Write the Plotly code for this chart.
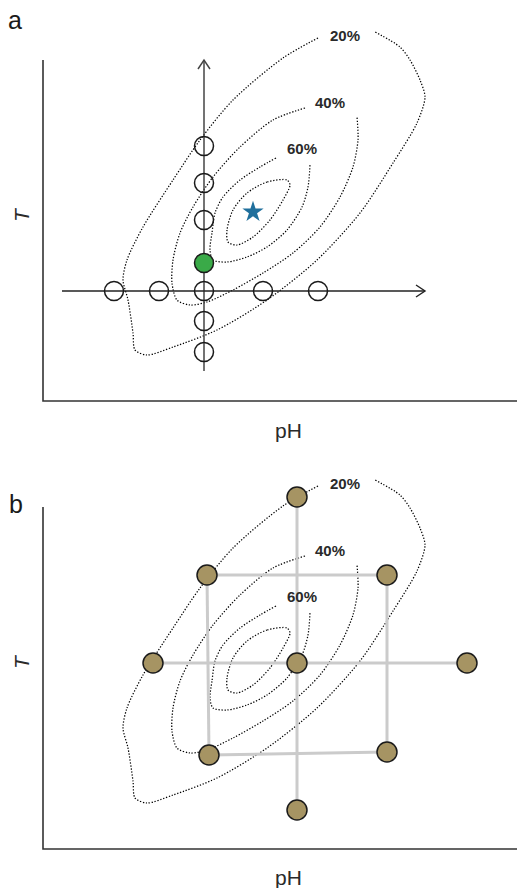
import plotly.graph_objects as go

# ---------------- data (units: pH / T, origin at axis corner) ----------------
c20_x = [275, 240, 190, 157, 130, 100, 84, 80, 85, 90, 92, 104, 130, 174, 224, 274, 317, 350, 374, 382, 377, 367, 357, 332]
c20_y = [363, 343, 301, 261, 221, 174, 141, 121, 101, 68, 51, 46, 54, 71, 101, 141, 188, 238, 278, 304, 321, 341, 354, 369]
c40_x = [262, 230, 197, 170, 150, 137, 130, 129, 134, 147, 164, 190, 220, 250, 277, 297, 310, 315, 314]
c40_y = [293, 281, 254, 224, 194, 168, 141, 118, 101, 96, 99, 111, 128, 148, 174, 204, 234, 261, 284]
c60_x = [233, 217, 197, 180, 172, 169, 167, 170, 184, 204, 224, 244, 259, 265, 267]
c60_y = [243, 234, 221, 204, 188, 168, 151, 141, 139, 144, 154, 171, 194, 214, 236]
c80_x = [244, 224, 204, 190, 184, 185, 194, 210, 227, 240, 247, 244]
c80_y = [221, 219, 208, 191, 171, 159, 156, 164, 181, 201, 216, 221]

contour_labels = ["20%", "40%", "60%"]
label_x = [302, 287, 259]
label_y = [366, 299, 253]

# panel a: one-factor-at-a-time design
ofat_x = [161, 161, 161, 161, 161, 161, 71, 116, 220, 275]
ofat_y = [255, 218, 181, 110, 80, 49, 110, 110, 110, 110]
best_x = [161]
best_y = [138]
opt_x = [210]
opt_y = [189]
arrow_v = [161, 30, 341]   # x, y_start, y_end
arrow_h = [110, 19, 382]   # y, x_start, x_end

# panel b: central composite design
ccd_x = [254, 164, 344, 110, 254, 424, 166, 344, 254]
ccd_y = [352, 274, 274, 186, 186, 186, 94, 97, 39]
ccd_links = [(1, 2), (6, 7), (1, 6), (2, 7), (3, 5), (0, 8)]

axis_len_x = 474
axis_len_y = [341, 342]

FONT = "Liberation Sans, Arial, sans-serif"
DARK = "#333333"

fig = go.Figure()

def add_contours(xa, ya):
    for cx, cy in [(c20_x, c20_y), (c40_x, c40_y), (c60_x, c60_y), (c80_x, c80_y)]:
        fig.add_trace(go.Scatter(x=cx, y=cy, mode="lines", xaxis=xa, yaxis=ya,
                                 line=dict(color="#000000", width=1.25, dash="1.3px,1.7px", shape="spline", smoothing=0.8),
                                 hoverinfo="skip", showlegend=False))
    for t, lx, ly in zip(contour_labels, label_x, label_y):
        fig.add_annotation(x=lx, y=ly, xref=xa, yref=ya, text="<b>" + t + "</b>",
                           xanchor="center", yanchor="middle",
                           showarrow=False, font=dict(family=FONT, size=15, color="#2a2a2a"))

def add_frame(xa, ya, h):
    fig.add_trace(go.Scatter(x=[0, 0, axis_len_x], y=[h, 0, 0], mode="lines", xaxis=xa, yaxis=ya,
                             line=dict(color=DARK, width=1.6), hoverinfo="skip", showlegend=False))

# ---------- panel a ----------
add_contours("x", "y")
add_frame("x", "y", axis_len_y[0])
vx, vy0, vy1 = arrow_v
hy, hx0, hx1 = arrow_h
fig.add_trace(go.Scatter(x=[vx, vx, None, vx - 6, vx, vx + 6], y=[vy0, vy1, None, vy1 - 9, vy1, vy1 - 9],
                         mode="lines", line=dict(color="#444444", width=1.5), hoverinfo="skip", showlegend=False))
fig.add_trace(go.Scatter(x=[hx0, hx1, None, hx1 - 9, hx1, hx1 - 9], y=[hy, hy, None, hy + 6, hy, hy - 6],
                         mode="lines", line=dict(color="#222222", width=1.4), hoverinfo="skip", showlegend=False))
fig.add_trace(go.Scatter(x=ofat_x, y=ofat_y, mode="markers",
                         marker=dict(symbol="circle-open", size=19, color="#1a1a1a", line=dict(width=1.5)),
                         hoverinfo="skip", showlegend=False))
fig.add_trace(go.Scatter(x=best_x, y=best_y, mode="markers",
                         marker=dict(symbol="circle", size=19, color="#3aaa48", line=dict(width=1.5, color="#1a1a1a")),
                         hoverinfo="skip", showlegend=False))
fig.add_trace(go.Scatter(x=opt_x, y=opt_y, mode="markers",
                         marker=dict(symbol="star", size=16, color="#1f6f9c", line=dict(width=0)),
                         hoverinfo="skip", showlegend=False))

# ---------- panel b ----------
add_contours("x2", "y2")
add_frame("x2", "y2", axis_len_y[1])
lx, ly = [], []
for i, j in ccd_links:
    lx += [ccd_x[i], ccd_x[j], None]
    ly += [ccd_y[i], ccd_y[j], None]
fig.add_trace(go.Scatter(x=lx, y=ly, mode="lines", xaxis="x2", yaxis="y2",
                         line=dict(color="#cbcbcb", width=3), hoverinfo="skip", showlegend=False))
fig.add_trace(go.Scatter(x=ccd_x, y=ccd_y, mode="markers", xaxis="x2", yaxis="y2",
                         marker=dict(symbol="circle", size=20, color="#a69463", line=dict(width=1.5, color="#1a1a1a")),
                         hoverinfo="skip", showlegend=False))

# ---------- text ----------
for lab, px, py in [("a", 15, 20), ("b", 16, 504)]:
    fig.add_annotation(x=px / 517, y=1 - py / 888, xref="paper", yref="paper", text=lab, showarrow=False,
                       xanchor="center", yanchor="middle",
                       font=dict(family=FONT, size=25, color="#1a1a1a"))
for py in [430, 877]:
    fig.add_annotation(x=288 / 517, y=1 - py / 888, xref="paper", yref="paper", text="pH", showarrow=False,
                       xanchor="center", yanchor="middle",
                       font=dict(family=FONT, size=21, color="#2a2a2a"))
for py in [215, 662]:
    fig.add_annotation(x=21 / 517, y=1 - py / 888, xref="paper", yref="paper", text="<i>T</i>", showarrow=False,
                       xanchor="center", yanchor="middle",
                       textangle=-90, font=dict(family=FONT, size=21, color="#2a2a2a"))

hidden = dict(visible=False, fixedrange=True)
fig.update_layout(
    width=517, height=888, margin=dict(l=0, r=0, t=0, b=0),
    paper_bgcolor="white", plot_bgcolor="white", showlegend=False,
    xaxis=dict(domain=[0, 1], range=[-43, 474], **hidden),
    yaxis=dict(domain=[0.5, 1], range=[-43, 401], **hidden),
    xaxis2=dict(domain=[0, 1], range=[-43, 474], **hidden),
    yaxis2=dict(domain=[0, 0.5], range=[-39, 405], **hidden),
)

fig.write_html("out.html", config={"displayModeBar": False},
               post_script="document.body.style.margin='0';document.body.style.overflow='hidden';")
